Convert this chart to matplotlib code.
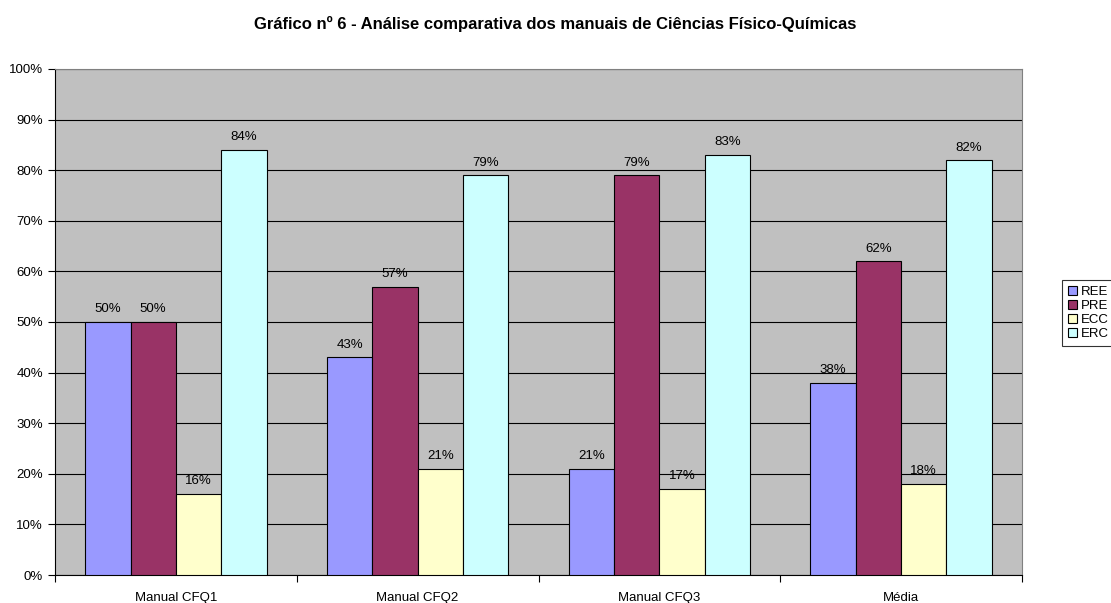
import numpy as np
import matplotlib.pyplot as plt

plt.rcParams['font.family'] = ['Liberation Sans', 'DejaVu Sans']

# data
categories = ['Manual CFQ1', 'Manual CFQ2', 'Manual CFQ3', 'Média']
series_names = ['REE', 'PRE', 'ECC', 'ERC']
ree = [50, 43, 21, 38]
pre = [50, 57, 79, 62]
ecc = [16, 21, 17, 18]
erc = [84, 79, 83, 82]
colors = ['#9999FF', '#993366', '#FFFFCC', '#CCFFFF']

fig = plt.figure(figsize=(11.11, 6.03), dpi=100)
ax = fig.add_axes([55/1111, 1 - 575/603, (1022-55)/1111, (575-69)/603])
ax.set_facecolor('#C0C0C0')

x = np.arange(len(categories))
w = 0.75 / 4
for i, (vals, name) in enumerate(zip([ree, pre, ecc, erc], series_names)):
    pos = x - 0.375 + w * (i + 0.5)
    bars = ax.bar(pos, vals, w, color=colors[i], edgecolor='black', linewidth=0.8,
                  label=name, zorder=3)
    for b, v in zip(bars, vals):
        ax.text(b.get_x() + b.get_width() / 2, v + 1.3, '%d%%' % v,
                ha='center', va='bottom', fontsize=9.5, zorder=4)

ax.set_xlim(-0.5, len(categories) - 0.5)
ax.set_ylim(0, 100)
ax.set_yticks(np.arange(0, 101, 10))
ax.set_yticklabels(['%d%%' % t for t in range(0, 101, 10)], fontsize=9.5)
ax.yaxis.grid(True, color='black', linewidth=0.8, zorder=0)
ax.set_axisbelow(True)

# category labels between boundary ticks
ax.set_xticks(np.arange(-0.5, len(categories), 1.0))
ax.set_xticklabels([])
ax.set_xticks(x, minor=True)
ax.set_xticklabels(categories, minor=True, fontsize=9.5)
ax.tick_params(axis='x', which='minor', length=0, pad=12)
ax.tick_params(axis='x', which='major', length=5, direction='out')
ax.tick_params(axis='y', length=5, direction='out')

for s in ['top', 'right']:
    ax.spines[s].set_color('#808080')
for s in ['left', 'bottom']:
    ax.spines[s].set_color('black')

fig.text(0.5, 1 - 24/603, 'Gráfico nº 6 - Análise comparativa dos manuais de Ciências Físico-Químicas',
         ha='center', va='center', fontsize=12, fontweight='bold')

leg = fig.legend(loc='center left', bbox_to_anchor=(1062/1111, 1 - 313/603), fontsize=9.5,
                 frameon=True, fancybox=False, edgecolor='black', handlelength=0.7,
                 handleheight=0.7, handletextpad=0.3, borderpad=0.45, labelspacing=0.15,
                 borderaxespad=0)
leg.get_frame().set_linewidth(0.8)

fig.savefig('out.png', dpi=100)
